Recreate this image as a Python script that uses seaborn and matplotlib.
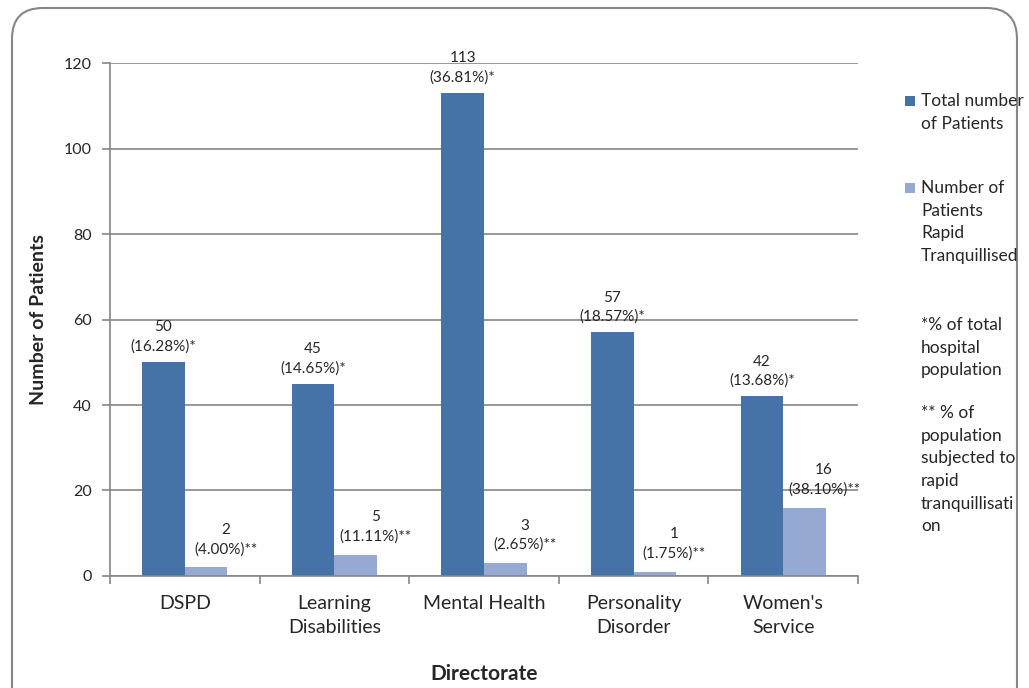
import matplotlib
matplotlib.use("Agg")
import matplotlib.pyplot as plt
import numpy as np
import pandas as pd
import seaborn as sns
from matplotlib.patches import FancyBboxPatch, Rectangle

# chart data
directorates = ["DSPD", "Learning\nDisabilities", "Mental Health", "Personality\nDisorder", "Women's\nService"]
total_patients = [50, 45, 113, 57, 42]
rt_patients = [2, 5, 3, 1, 16]
pct_of_hospital = [16.28, 14.65, 36.81, 18.57, 13.68]
pct_rapid_tranq = [4.00, 11.11, 2.65, 1.75, 38.10]
series_names = ["Total number\nof Patients", "Number of\nPatients\nRapid\nTranquillised"]
notes = ["*% of total\nhospital\npopulation",
         "** % of\npopulation\nsubjected to\nrapid\ntranquillisati\non"]
y_ticks = [0, 20, 40, 60, 80, 100, 120]

df = pd.DataFrame({
    "Directorate": directorates * 2,
    "Patients": total_patients + rt_patients,
    "Series": [series_names[0]] * 5 + [series_names[1]] * 5,
})

sns.set_theme(style="white")
plt.rcParams["font.family"] = ["Lato", "DejaVu Sans"]

dark = "#4572A7"
light = "#95A9D3"
grid_col = "#868686"

W, H = 1029, 688
fig = plt.figure(figsize=(W / 100, H / 100), dpi=100)
ax = fig.add_axes([0.1069, 0.1628, 0.7269, 0.7456])

sns.barplot(data=df, x="Directorate", y="Patients", hue="Series",
            palette=[dark, light], width=0.57, gap=0, saturation=1,
            linewidth=0, legend=False, ax=ax)

ax.set_ylim(0, 120)
ax.set_xlim(-0.5, 4.5)
ax.set_yticks(y_ticks)
ax.yaxis.grid(True, color=grid_col, linewidth=1.2)
ax.set_axisbelow(True)
for s in ["top", "right"]:
    ax.spines[s].set_visible(False)
for s in ["left", "bottom"]:
    ax.spines[s].set_color(grid_col)
    ax.spines[s].set_linewidth(1.2)

ax.tick_params(axis="y", which="major", length=6, color=grid_col, width=1.2,
               left=True, labelsize=11.5, pad=7)
ax.tick_params(axis="x", which="major", length=0, labelsize=14, pad=14)
ax.set_xticks(np.arange(-0.5, 4.6, 1.0), minor=True)
ax.tick_params(axis="x", which="minor", length=6, color=grid_col, width=1.2, bottom=True)
for lab in ax.get_xticklabels():
    lab.set_linespacing(1.5)

ax.set_xlabel("Directorate", fontsize=15, fontweight="bold", labelpad=20)
ax.set_ylabel("Number of Patients", fontsize=14, fontweight="bold", labelpad=12)

# data labels
dark_bars, light_bars = ax.containers[0], ax.containers[1]
for bar, v, p in zip(dark_bars, total_patients, pct_of_hospital):
    ax.annotate(f"{v}\n({p:.2f}%)*", (bar.get_x() + bar.get_width() / 2, bar.get_height()),
                xytext=(0, 6), textcoords="offset points", ha="center", va="bottom",
                fontsize=11, linespacing=1.45)
for bar, v, p in zip(light_bars, rt_patients, pct_rapid_tranq):
    ax.annotate(f"{v}\n({p:.2f}%)**", (bar.get_x() + bar.get_width() / 2, bar.get_height()),
                xytext=(14, 8), textcoords="offset points", ha="center", va="bottom",
                fontsize=11, linespacing=1.45)


def fy(py):
    return 1 - py / H


# legend (square marker next to the first line, as in the original)
leg_fs = 12.5
leg_ls = 1.51
for col, name, top, mark in zip([dark, light], series_names, [93, 180], [96, 183]):
    fig.add_artist(Rectangle((905 / W, fy(mark + 10)), 10 / W, 10 / H,
                             transform=fig.transFigure, facecolor=col, edgecolor="none"))
    fig.text(921 / W, fy(top), name, fontsize=leg_fs, va="top", ha="left", linespacing=leg_ls)

fig.text(921 / W, fy(317), notes[0], fontsize=leg_fs, va="top", ha="left", linespacing=leg_ls)
fig.text(921 / W, fy(405), notes[1], fontsize=leg_fs, va="top", ha="left", linespacing=leg_ls)

# rounded chart border
border = FancyBboxPatch((12 / W, -0.05), 1005 / W, 1.05 - 8 / H, transform=fig.transFigure,
                        boxstyle="round,pad=0,rounding_size=0.03", mutation_aspect=W / H,
                        facecolor="none", edgecolor=grid_col, linewidth=1.5)
fig.add_artist(border)

fig.savefig("out.png", dpi=100)
